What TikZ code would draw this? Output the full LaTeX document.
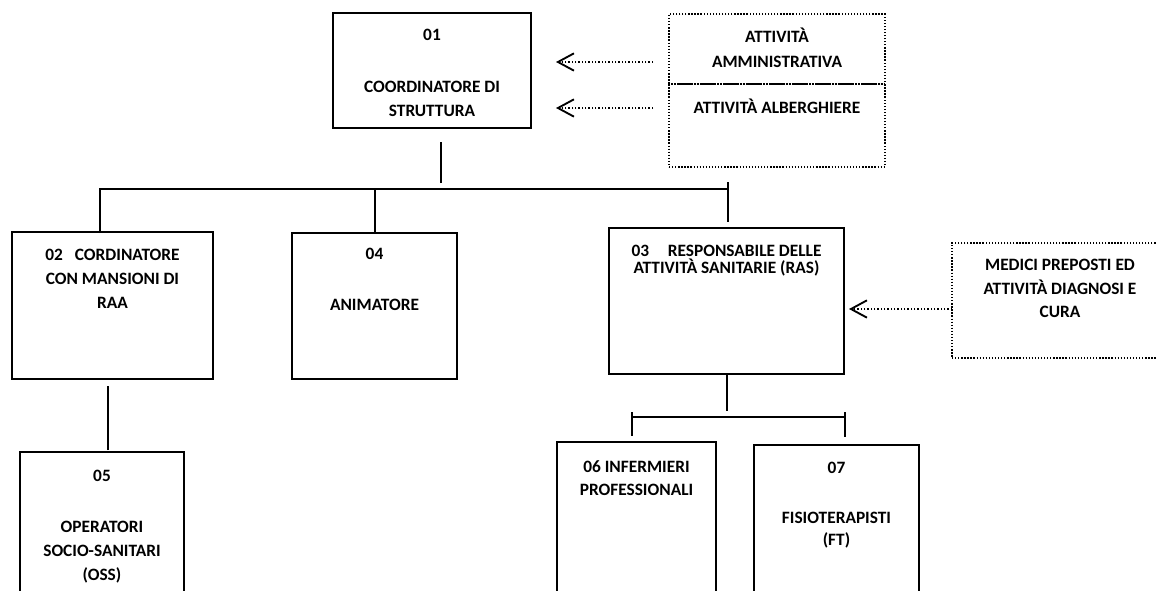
\documentclass[tikz,border=0pt]{standalone}
\usepackage{fontspec}
\setmainfont{Carlito}
\usetikzlibrary{arrows.meta,positioning}

\begin{document}
\begin{tikzpicture}[
    x=0.75pt, y=-0.75pt,
    box/.style={
        rectangle, draw, line width=1.5pt, inner sep=0pt
    },
    dotbox/.style={
        rectangle, draw, line width=1pt, dash pattern=on 1pt off 1.3pt, inner sep=0pt
    },
    txt/.style={
        align=center, inner sep=0pt, anchor=north,
        font=\bfseries\fontsize{13}{18}\selectfont
    },
    conn/.style={line width=1.5pt},
    arrow/.style={
        -{Straight Barb[length=12pt, width=13pt, line width=1.4pt]},
        line width=1.1pt, dash pattern=on 1.1pt off 1.4pt
    }
]
\useasboundingbox (0,0) rectangle (1157,590);

% Boxes
\node[box, minimum width=148.5pt, minimum height=86.25pt] (c01) at (432,70.5) {};
\node[box, minimum width=150.75pt, minimum height=110.25pt] (c02) at (112.5,305.5) {};
\node[box, minimum width=123.75pt, minimum height=109.5pt] (c04) at (374.5,306) {};
\node[box, minimum width=176.25pt, minimum height=109.5pt] (c03) at (726.5,301) {};
\node[box, minimum width=123pt, minimum height=111pt] (c05) at (102,526) {};
\node[box, minimum width=119.25pt, minimum height=118.5pt] (c06) at (636.5,521) {};
\node[box, minimum width=123.75pt, minimum height=116.25pt] (c07) at (836.5,522.5) {};

% Side boxes
\node[dotbox, minimum width=162pt, minimum height=52.5pt] (adm) at (777,49) {};
\node[dotbox, minimum width=162pt, minimum height=62.25pt] (alb) at (777,125.5) {};
\node[dotbox, minimum width=162pt, minimum height=86.25pt] (med) at (1060,300.5) {};

% Texts
\node[txt, below=12.75pt of c01.north] (t01) {01\\[21pt]COORDINATORE DI\\STRUTTURA};
\node[txt, below=13.5pt of c02.north] (t02) {02\hspace{9pt}CORDINATORE\\CON MANSIONI DI\\RAA};
\node[txt, below=12pt of c04.north] (t04) {04\\[20pt]ANIMATORE};
\node[txt, below=13.5pt of c03.north, font=\bfseries\fontsize{13}{12.75}\selectfont] (t03)
    {03\hspace{14pt}RESPONSABILE DELLE\\ATTIVIT\`A SANITARIE (RAS)};
\node[txt, below=14.25pt of c05.north] (t05) {05\\[20pt]OPERATORI\\SOCIO-SANITARI\\(OSS)};
\node[txt, below=14.25pt of c06.north, font=\bfseries\fontsize{13}{17.25}\selectfont] (t06)
    {06 INFERMIERI\\PROFESSIONALI};
\node[txt, below=13.5pt of c07.north, font=\bfseries\fontsize{13}{16.5}\selectfont] (t07)
    {07\\[21pt]FISIOTERAPISTI\\(FT)};
\node[txt, below=10.5pt of adm.north, font=\bfseries\fontsize{13}{18.75}\selectfont] (tadm)
    {ATTIVIT\`A\\AMMINISTRATIVA};
\node[txt, below=11.25pt of alb.north] (talb) {ATTIVIT\`A ALBERGHIERE};
\node[txt, below=12.75pt of med.north, font=\bfseries\fontsize{13}{17.6}\selectfont] (tmed)
    {MEDICI PREPOSTI ED\\ATTIVIT\`A DIAGNOSI E\\CURA};

% Lines - first level
\coordinate (top) at (441,183);
\coordinate (busL) at (100,189);
\coordinate (busR) at (728,189);
\draw[conn, shorten >=9.75pt] (top) -- (top |- c01.south);
\draw[conn] ([yshift=-1.5pt]c02.north -| busL) -- (busL) -- (busR);
\draw[conn] (c04.north) -- (c04.north |- busL);
\draw[conn] ([yshift=5.25pt]busR) -- ([yshift=3.75pt]c03.north -| busR);

% Lines - second level
\coordinate (l05) at (108,450);
\draw[conn] (l05) -- ([yshift=-4.5pt]l05 |- c02.south);
\coordinate (sbL) at (632,417);
\coordinate (sbR) at (845,417);
\draw[conn] (c03.south) -- ([yshift=4.5pt]c03.south |- sbL);
\draw[conn] (sbL) -- (sbR);
\draw[conn] ([yshift=3.75pt]sbL) -- ([yshift=3.75pt]c06.north -| sbL);
\draw[conn] ([yshift=3.75pt]sbR) -- ([yshift=5.25pt]c07.north -| sbR);

% Arrows
\coordinate (a1) at (653,62);
\coordinate (a2) at (653,108);
\coordinate (a3) at (952,309);
\draw[arrow, shorten >=18pt] (a1) -- (a1 -| c01.east);
\draw[arrow, shorten >=18pt] (a2) -- (a2 -| c01.east);
\draw[arrow, shorten >=3pt] (a3) -- (a3 -| c03.east);

\end{tikzpicture}
\end{document}
